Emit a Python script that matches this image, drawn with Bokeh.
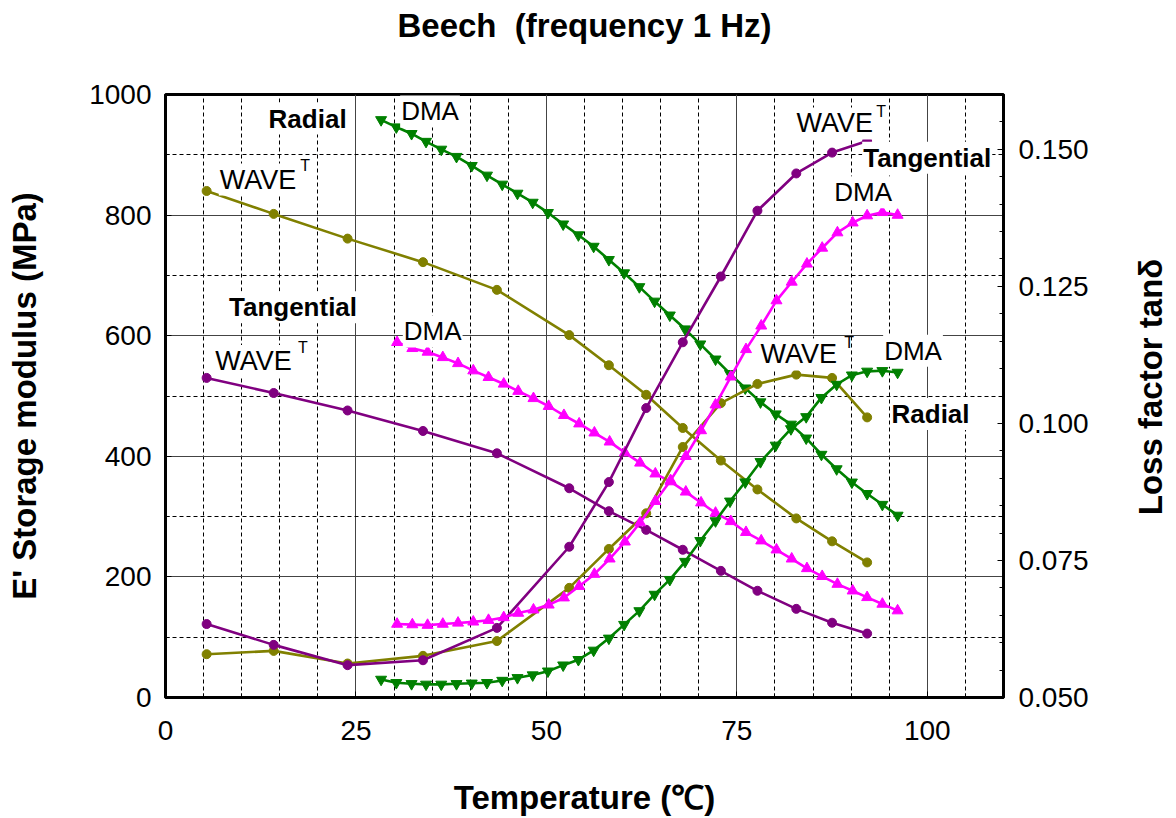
import math
from bokeh.plotting import figure
from bokeh.layouts import row
from bokeh.models import (Range1d, LinearAxis, SingleIntervalTicker,
                          PrintfTickFormatter, Label, Title)
from bokeh.embed import file_html
from bokeh.resources import INLINE

FONT = "Liberation Sans"

# ---------------- data ----------------
# WAVE (ultrasonic) measurement temperatures (deg C)
wave_T = [5.4, 14.2, 23.9, 33.8, 43.5, 53.0, 58.2, 63.1, 67.9, 72.9, 77.7, 82.8, 87.5, 92.1]
# Radial WAVE
radial_wave_E = [840, 802, 761, 722, 676, 601, 551, 502, 447, 393, 345, 297, 259, 224]
radial_wave_tan = [0.0579, 0.0585, 0.0562, 0.0576, 0.0603, 0.0700, 0.0771, 0.0836,
                   0.0957, 0.1037, 0.1072, 0.1089, 0.1083, 0.1011]
# Tangential WAVE
tang_wave_E = [530, 505, 476, 442, 405, 347, 309, 278, 245, 210, 177, 147, 124, 106]
tang_wave_tan = [0.0634, 0.0596, 0.0559, 0.0568, 0.0627, 0.0775, 0.0893, 0.1028,
                 0.1148, 0.1268, 0.1388, 0.1456, 0.1494, 0.1515]

# Radial DMA
radial_dma_T = [28.3, 30.3, 32.3, 34.2, 36.2, 38.2, 40.2, 42.2, 44.2, 46.2, 48.2, 50.2,
                52.2, 54.2, 56.2, 58.2, 60.2, 62.2, 64.2, 66.2, 68.2, 70.2, 72.2, 74.1,
                76.1, 78.1, 80.1, 82.1, 84.1, 86.1, 88.1, 90.1, 92.1, 94.1, 96.1]
radial_dma_E = [958, 946, 935, 922, 909, 897, 882, 866, 851, 836, 821, 804,
                785, 767, 748, 726, 704, 681, 657, 634, 611, 586, 561, 537,
                513, 490, 470, 453, 430, 403, 379, 357, 338, 320, 302]
radial_dma_tan = [0.0533, 0.0527, 0.0525, 0.0524, 0.0524, 0.0525, 0.0526, 0.0527,
                  0.0531, 0.0536, 0.0541, 0.0548, 0.0559, 0.0569, 0.0586, 0.0608,
                  0.0633, 0.0658, 0.0688, 0.0715, 0.0748, 0.0786, 0.0822, 0.0858,
                  0.0893, 0.0930, 0.0960, 0.0990, 0.1012, 0.1047, 0.1071, 0.1088,
                  0.1095, 0.1096, 0.1093]

# Tangential DMA
tang_dma_T = [30.4, 32.4, 34.4, 36.4, 38.4, 40.4, 42.4, 44.4, 46.3, 48.3, 50.3, 52.3,
              54.3, 56.3, 58.3, 60.3, 62.3, 64.3, 66.3, 68.3, 70.3, 72.2, 74.2, 76.2,
              78.2, 80.2, 82.2, 84.2, 86.2, 88.2, 90.2, 92.1, 94.1, 96.1]
tang_dma_E = [589, 579, 573, 564, 554, 542, 531, 520, 508, 496, 483, 468,
              454, 439, 424, 406, 389, 371, 358, 341, 323, 306, 292, 274,
              260, 245, 230, 214, 201, 188, 177, 166, 155, 144]
tang_dma_tan = [0.0634, 0.0633, 0.0632, 0.0634, 0.0636, 0.0638, 0.0641, 0.0646,
                0.0654, 0.0660, 0.0669, 0.0682, 0.0703, 0.0725, 0.0753, 0.0784,
                0.0819, 0.0858, 0.0896, 0.0940, 0.0987, 0.1034, 0.1085, 0.1135,
                0.1178, 0.1224, 0.1258, 0.1291, 0.1320, 0.1348, 0.1366, 0.1379,
                0.1385, 0.1380]

x_ticks_interval = 25
y_ticks_interval = 200
tan_ticks_interval = 0.025

TITLE = "Beech\u00a0 (frequency 1 Hz)"
X_LABEL = "Temperature (\u2103)"
Y_LABEL = "E' Storage modulus (MPa)"
Y2_LABEL = "Loss factor tan\u03b4"

# ---------------- main figure ----------------
fig = figure(width=1133, height=818, x_range=Range1d(0, 110), y_range=Range1d(0, 1000),
             output_backend="svg", toolbar_location=None,
             min_border_left=165, min_border_right=130, min_border_top=94,
             min_border_bottom=118)
fig.extra_y_ranges = {"tan": Range1d(0.05, 0.16)}
fig.background_fill_color = "white"
fig.border_fill_color = "white"
fig.outline_line_color = "black"
fig.outline_line_width = 3

# main title (outermost) with an empty spacer title between it and the frame
fig.title.text = TITLE
fig.title.align = "center"
fig.title.text_font = FONT
fig.title.text_font_size = "33px"
fig.title.text_font_style = "bold"
fig.title.text_color = "black"
fig.title.standoff = 4
fig.title.vertical_align = "bottom"
fig.add_layout(Title(text="\u00a0", text_font_size="10px", standoff=36), "above")

xt = SingleIntervalTicker(interval=x_ticks_interval, num_minor_ticks=5)
yt = SingleIntervalTicker(interval=y_ticks_interval, num_minor_ticks=2)
fig.xaxis.ticker = xt
fig.xgrid.ticker = xt
fig.yaxis.ticker = yt
fig.ygrid.ticker = yt

for g in (fig.xgrid, fig.ygrid):
    g.grid_line_color = "#444444"
    g.grid_line_width = 1
    g.minor_grid_line_color = "black"
    g.minor_grid_line_dash = "4 3"
    g.minor_grid_line_width = 1

fig.xaxis.axis_label = X_LABEL
fig.yaxis.axis_label = Y_LABEL

tan_axis = LinearAxis(y_range_name="tan",
                      ticker=SingleIntervalTicker(interval=tan_ticks_interval, num_minor_ticks=5),
                      formatter=PrintfTickFormatter(format="%.3f"))
fig.add_layout(tan_axis, "right")

for ax in (fig.xaxis[0], fig.yaxis[0], tan_axis):
    ax.axis_line_width = 3
    ax.axis_line_color = "black"
    ax.major_tick_in = 6
    ax.major_tick_out = 0
    ax.minor_tick_in = 4
    ax.minor_tick_out = 0
    ax.major_tick_line_color = "black"
    ax.minor_tick_line_color = "black"
    ax.major_label_text_font = FONT
    ax.major_label_text_font_size = "28px"
    ax.major_label_text_color = "black"
    ax.axis_label_text_font = FONT
    ax.axis_label_text_font_size = "33px"
    ax.axis_label_text_font_style = "bold"
    ax.axis_label_text_color = "black"

fig.xaxis[0].major_label_standoff = 23
fig.xaxis[0].axis_label_standoff = 36
fig.yaxis[0].major_label_standoff = 14
fig.yaxis[0].axis_label_standoff = 43
tan_axis.major_label_standoff = 15

OLIVE = "#808000"
PURPLE = "#800080"
GREEN = "#008000"
MAGENTA = "#FF00FF"
LW = 2.6

def series(xs, ys, color, marker, size, rng="default"):
    fig.line(xs, ys, line_color=color, line_width=LW, y_range_name=rng)
    fig.scatter(xs, ys, marker=marker, size=size, fill_color=color, line_color=color,
                y_range_name=rng)

series(wave_T, radial_wave_E, OLIVE, "circle", 9)
series(wave_T, tang_wave_E, PURPLE, "circle", 9)
series(radial_dma_T, radial_dma_E, GREEN, "inverted_triangle", 11)
series(tang_dma_T, tang_dma_E, MAGENTA, "triangle", 11)
series(wave_T, radial_wave_tan, OLIVE, "circle", 9, "tan")
series(wave_T, tang_wave_tan, PURPLE, "circle", 9, "tan")
series(radial_dma_T, radial_dma_tan, GREEN, "inverted_triangle", 11, "tan")
series(tang_dma_T, tang_dma_tan, MAGENTA, "triangle", 11, "tan")

# ---------------- annotations ----------------
labels = [
    ("Radial", 13.4, 960, "bold", "26px"),
    ("DMA", 30.8, 972, "normal", "26px"),
    ("WAVE", 7.0, 859, "normal", "27px"),
    ("Tangential", 8.2, 647, "bold", "26px"),
    ("DMA", 31.15, 607, "normal", "26px"),
    ("WAVE", 6.4, 558, "normal", "27px"),
    ("WAVE", 82.7, 952, "normal", "27px"),
    ("Tangential", 91.45, 895, "bold", "26px"),
    ("DMA", 87.65, 838, "normal", "26px"),
    ("WAVE", 77.97, 569, "normal", "27px"),
    ("DMA", 94.2, 575, "normal", "26px"),
    ("Radial", 95.17, 470, "bold", "26px"),
]
for txt, x, y, style, fs in labels:
    fig.add_layout(Label(x=x, y=y, text=txt, text_font=FONT, text_font_size=fs,
                         text_font_style=style, text_align="left", text_baseline="middle",
                         text_color="black", background_fill_color="white", padding=1))

sups = [(17.7, 883), (17.4, 580), (93.3, 972), (89.1, 588)]
for x, y in sups:
    fig.add_layout(Label(x=x, y=y, text="T", text_font=FONT, text_font_size="16px",
                         text_align="left", text_baseline="middle", text_color="black"))

# ---------------- right-hand axis title strip ----------------
side = figure(width=43, height=818, x_range=Range1d(0, 1), y_range=Range1d(0, 1),
              output_backend="svg", toolbar_location=None, min_border=0,
              min_border_left=0, min_border_right=0, min_border_top=0,
              min_border_bottom=0)
side.axis.visible = False
side.grid.visible = False
side.outline_line_color = None
side.background_fill_color = "white"
side.border_fill_color = "white"
side.add_layout(Label(x=0.39, y=0.515, text=Y2_LABEL, angle=math.pi / 2, text_font=FONT,
                      text_font_size="33px", text_font_style="bold", text_align="center",
                      text_baseline="middle", text_color="black"))

p = row(fig, side, spacing=0)
open("out.html", "w").write(file_html(p, INLINE))
